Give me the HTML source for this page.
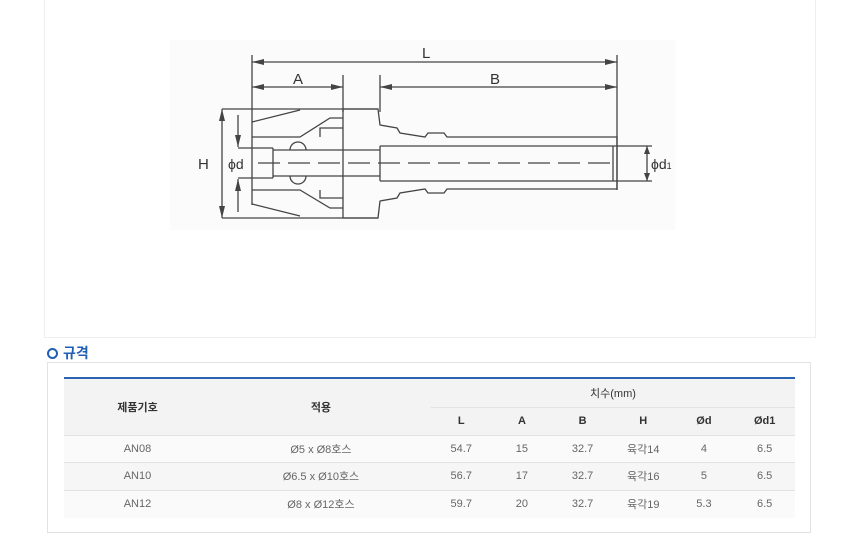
<!DOCTYPE html>
<html><head><meta charset="utf-8"><style>
*{margin:0;padding:0;box-sizing:border-box}
body{width:860px;height:558px;background:#fff;position:relative;font-family:"Liberation Sans","Noto Sans CJK KR",sans-serif;overflow:hidden}
.top{position:absolute;left:44px;top:-1px;width:772px;height:339px;border:1px solid #eee;background:#fff}
.title{position:absolute;left:47px;top:343px;font-size:14px;color:#1f5fb4;font-weight:bold;display:flex;align-items:center}
.title i{display:inline-block;width:11px;height:11px;border:2.5px solid #1f5fb4;border-radius:50%;margin-right:5px}
.box{position:absolute;left:47px;top:362px;width:764px;height:171px;border:1px solid #e2e2e2}
table{position:absolute;left:64px;top:377px;width:731px;border-collapse:collapse;font-size:11px;color:#666}
table{border-top:2px solid #2a64b0}
th{background:#f3f3f3;color:#333;font-weight:bold;font-size:11px}
td,th{text-align:center;padding:0}
tr.r td{height:27.5px;border-top:1px solid #e2e2e2;background:#fafafa}
tr.r:nth-child(4) td{background:#f6f6f6}
</style></head><body>
<div class="top"></div>
<svg style="position:absolute;left:0;top:0" width="860" height="340">
<rect x="170" y="40" width="505" height="190" fill="#fbfbfb"/>
<g stroke="#444" stroke-width="1.3" fill="none">
<!-- extension lines -->
<line x1="252" y1="55" x2="252" y2="205"/>
<line x1="617" y1="55" x2="617" y2="190"/>
<line x1="343" y1="75" x2="343" y2="112"/>
<line x1="380" y1="75" x2="380" y2="112"/>
<!-- dims -->
<line x1="252" y1="62" x2="617" y2="62"/>
<line x1="252" y1="87" x2="343" y2="87"/>
<line x1="380" y1="87" x2="617" y2="87"/>
<line x1="222" y1="109" x2="378" y2="109"/>
<line x1="222" y1="218" x2="378" y2="218"/>
<line x1="222" y1="109" x2="222" y2="218"/>
<line x1="238" y1="115" x2="238" y2="147"/>
<line x1="238" y1="179" x2="238" y2="212"/>
<line x1="238" y1="148" x2="273" y2="148"/>
<line x1="238" y1="178" x2="273" y2="178"/>
<line x1="613" y1="146" x2="652" y2="146"/>
<line x1="613" y1="181" x2="652" y2="181"/>
<line x1="647" y1="146" x2="647" y2="181"/>
<!-- body outline -->
<path d="M343 109 L378 109 L380 125 L397 128 L400 133 L425 137 L428 133 L444 133 L447 137 L617 137 L617 189 L447 189 L444 193 L428 193 L425 189 L400 193 L397 198 L380 201 L378 218 L343 218"/>
<line x1="343" y1="109" x2="343" y2="218"/>
<!-- collet -->
<path d="M252 122 L300 110 M252 137 L300 137 L330 118 L343 118 M252 190 L300 190 L330 208 L343 208 M252 204 L300 216"/>
<path d="M320 137 L320 128 L343 128 M320 190 L320 198 L343 198"/>
<path d="M273 148 L273 178 M273 150 L380 150 M273 176 L380 176"/>
<!-- bore tube -->
<path d="M380 146 L380 181 M380 146 L613 146 M380 181 L613 181 M613 146 L613 181"/>
<path d="M290 150 A8 8 0 0 1 306 150 M290 176 A8 8 0 0 0 306 176"/>
</g>
<line x1="258" y1="163" x2="612" y2="163" stroke="#444" stroke-width="1.3" stroke-dasharray="22,8"/>
<g fill="#444">
<path d="M252 62 l12 -3 v6z M617 62 l-12 -3 v6z M252 87 l12 -3 v6z M343 87 l-12 -3 v6z M380 87 l12 -3 v6z M617 87 l-12 -3 v6z"/>
<path d="M222 109 l-3 12 h6z M222 218 l-3 -12 h6z M238 147 l-3 -12 h6z M238 179 l-3 12 h6z M647 146 l-3 8 h6z M647 181 l-3 -8 h6z"/>
</g>
<g font-family="Liberation Sans,sans-serif" font-size="15" fill="#333">
<text x="422" y="58">L</text><text x="293" y="84">A</text><text x="490" y="84">B</text>
<text x="198" y="169">H</text><text x="228" y="169" font-size="14">ϕd</text>
<text x="651" y="169" font-size="14">ϕd<tspan font-size="9">1</tspan></text>
</g>
</svg>
<div class="title"><i></i>규격</div>
<div class="box"></div>
<table>
<colgroup><col style="width:147px"><col style="width:220px"><col span="6" style="width:60.7px"></colgroup>
<tr><th rowspan="2" style="height:57px">제품기호</th><th rowspan="2">적용</th><th colspan="6" style="height:29px;font-weight:normal;border-bottom:1px solid #e2e2e2">치수(mm)</th></tr>
<tr><th style="height:28px">L</th><th>A</th><th>B</th><th>H</th><th>Ød</th><th>Ød1</th></tr>
<tr class="r"><td>AN08</td><td>Ø5 x Ø8호스</td><td>54.7</td><td>15</td><td>32.7</td><td>육각14</td><td>4</td><td>6.5</td></tr>
<tr class="r"><td>AN10</td><td>Ø6.5 x Ø10호스</td><td>56.7</td><td>17</td><td>32.7</td><td>육각16</td><td>5</td><td>6.5</td></tr>
<tr class="r"><td>AN12</td><td>Ø8 x Ø12호스</td><td>59.7</td><td>20</td><td>32.7</td><td>육각19</td><td>5.3</td><td>6.5</td></tr>
</table>
</body></html>
